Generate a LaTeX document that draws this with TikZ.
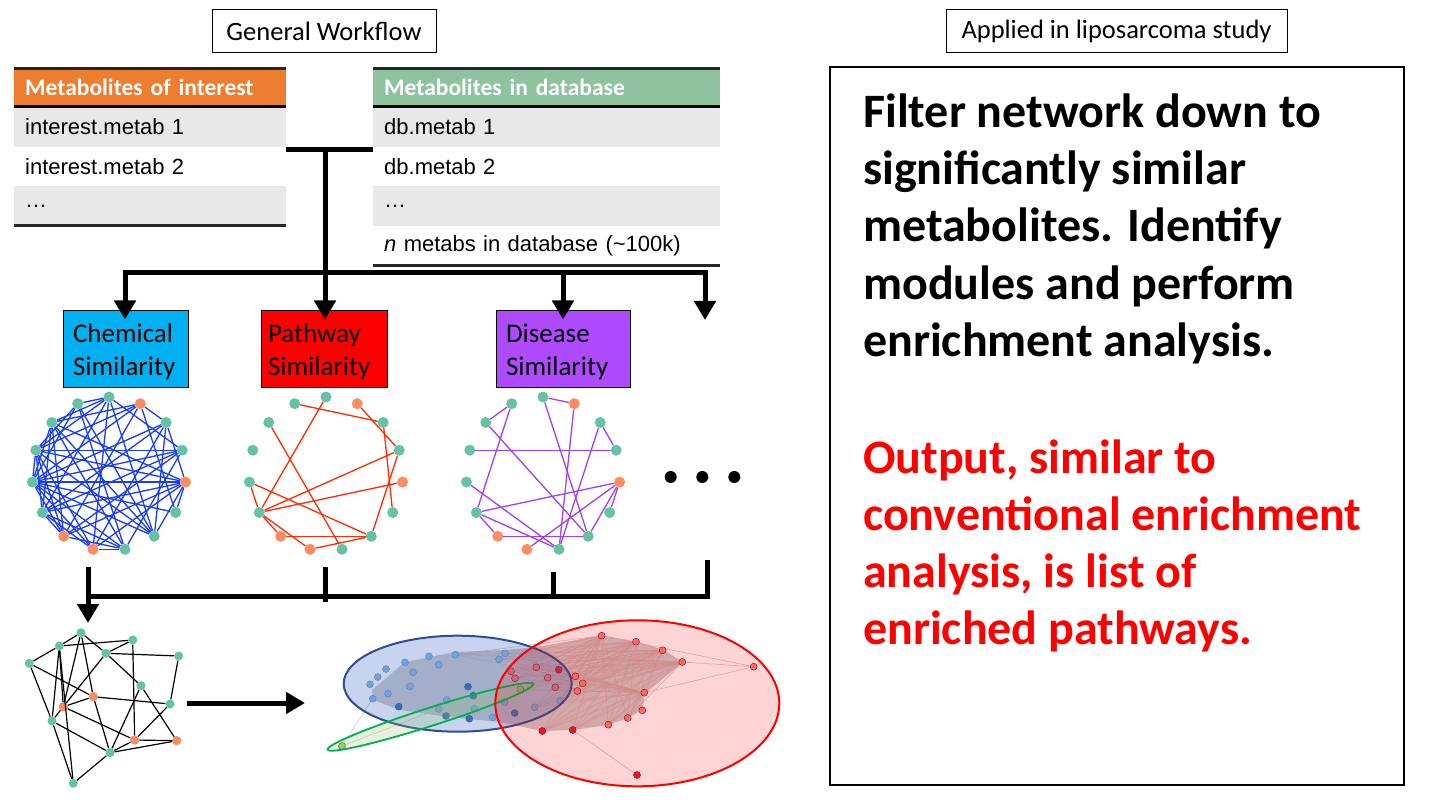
\documentclass[tikz,border=0pt]{standalone}
\usepackage{fontspec}
\setmainfont{Carlito}
\newfontfamily\arialf{Liberation Sans}
\usetikzlibrary{arrows.meta}
\definecolor{teal1}{HTML}{66C2A5}
\definecolor{orange1}{HTML}{FC8D62}
\definecolor{hdrorange}{HTML}{ED7D31}
\definecolor{hdrgreen}{HTML}{8FC3A0}
\definecolor{rowgrey}{HTML}{E8E8E8}
\definecolor{chemcyan}{HTML}{00B0F0}
\definecolor{pathred}{HTML}{FF0000}
\definecolor{dispurple}{HTML}{AE4BFF}
\definecolor{bedge}{HTML}{1A3CF5}
\definecolor{redge}{HTML}{FF2A00}
\definecolor{pedge}{HTML}{A040F0}
\definecolor{lblue}{HTML}{8AB4E0}
\definecolor{dblue}{HTML}{2E6DB4}
\definecolor{pinkn}{HTML}{F28080}
\definecolor{darkred}{HTML}{E0202A}
\definecolor{olive1}{HTML}{A8C878}
\definecolor{hair}{HTML}{C9A6A6}
\definecolor{ellblue}{HTML}{2F4E8F}
\definecolor{ellfill}{HTML}{4A72C4}
\definecolor{ellgreen}{HTML}{00B050}
\definecolor{ellgfill}{HTML}{8CC068}
\begin{document}
\begin{tikzpicture}[x=1pt,y=-1pt,
  conn/.style={line width=5pt, black},
  arr/.style={conn, -{Triangle[width=21pt,length=19pt]}},
  tnode/.style={circle, fill=teal1, draw=none, inner sep=0pt, minimum size=11pt},
  onode/.style={tnode, fill=orange1},
  stn/.style={circle, fill=teal1, draw=none, inner sep=0pt, minimum size=9pt},
  son/.style={stn, fill=orange1},
  cell/.style={anchor=north west, minimum height=39.5pt, inner xsep=11pt, inner ysep=0pt, align=left, font=\arialf\fontsize{22}{26}\selectfont},
  cellL/.style={cell, text width=250pt},
  cellR/.style={cell, text width=325pt},
  hdrL/.style={cellL, minimum height=37pt, text=white, font=\bfseries\fontsize{23.5}{28}\selectfont},
  hdrR/.style={cellR, minimum height=37pt, text=white, font=\bfseries\fontsize{23.5}{28}\selectfont},
  simbox/.style={draw=black, line width=1pt, minimum height=77pt, inner ysep=0pt, align=left, font=\fontsize{27}{33}\selectfont},
  lblbox/.style={draw=black, line width=1pt, minimum height=43pt, font=\fontsize{26.5}{30}\selectfont},
  bigtxt/.style={anchor=base west, inner sep=0pt, font=\bfseries\fontsize{48}{57}\selectfont},
  cnode/.style={circle, inner sep=0pt, minimum size=7pt, line width=0.4pt},
  lbn/.style={cnode, fill=lblue, draw=ellblue!70},
  dbn/.style={cnode, fill=dblue, draw=ellblue},
  pkn/.style={cnode, fill=pinkn, draw=red!50!black},
  drn/.style={cnode, fill=darkred, draw=red!50!black},
  gnn/.style={cnode, fill=olive1, draw=green!40!black},
  hairline/.style={hair, line width=0.7pt, opacity=0.6}
]
\useasboundingbox (0,0) rectangle (1440,810);

% ---------- header labels ----------
\node[lblbox, minimum width=224pt] (gw) at (324,31.5) {General Workflow};
\node[lblbox, minimum width=341pt] (ap) at (1116.5,31.5) {Applied in liposarcoma study};

% ---------- left table ----------
\node[hdrL, fill=hdrorange] (lh) at (14,69) {Metabolites of interest};
\node[cellL, fill=rowgrey] (l1) at (14,107) {interest.metab 1};
\node[cellL] (l2) at (14,146.5) {interest.metab 2};
\node[cellL, fill=rowgrey] (l3) at (14,186) {…};
\draw[line width=3pt, black!85] (lh.north west) -- (lh.north east);
\draw[line width=2.5pt, black] (lh.south west) -- (lh.south east);
\draw[line width=3pt, black!85] (l3.south west) -- (l3.south east);

% ---------- right table ----------
\node[hdrR, fill=hdrgreen] (rh) at (373,69) {Metabolites in database};
\node[cellR, fill=rowgrey] (r1) at (373,107) {db.metab 1};
\node[cellR] (r2) at (373,146.5) {db.metab 2};
\node[cellR, fill=rowgrey] (r3) at (373,186) {…};
\node[cellR] (r4) at (373,225.5) {\textit{n} metabs in database (\textasciitilde100k)};
\draw[line width=3pt, black!85] (rh.north west) -- (rh.north east);
\draw[line width=2.5pt, black] (rh.south west) -- (rh.south east);
\draw[line width=3pt, black!85] (r4.south west) -- (r4.south east);

% ---------- similarity boxes ----------
\node[simbox, fill=chemcyan, minimum width=125pt, text width=105pt, inner xsep=10pt] (chem) at (125.5,348.5) {\rule{0pt}{26pt}Chemical\\Similarity};
\node[simbox, fill=pathred, minimum width=126pt, text width=112pt, inner xsep=7pt] (path) at (324,348.5) {\rule{0pt}{26pt}Pathway\\Similarity};
\node[simbox, fill=dispurple, minimum width=134pt, text width=114pt, inner xsep=10pt] (dis) at (563,348.5) {\rule{0pt}{26pt}Disease\\Similarity};

% ---------- top connectors ----------
\coordinate (jl) at (286,150);
\coordinate (jr) at (373,150);
\coordinate (jm) at (325,150);
\coordinate (hb) at (325,273);
\coordinate (hl) at (125,273);
\coordinate (hr) at (705,273);
\coordinate (more) at (705,320);
\draw[conn] (jl) -- (jr);
\draw[conn] (jm) -- (hb);
\draw[conn, line cap=rect] (hl) -- (hr);
\draw[arr] (hl) -- ([yshift=-10pt]chem.north -| hl);
\draw[arr] (hb) -- ([yshift=-10pt]path.north -| hb);
\draw[arr] (dis.north |- hb) -- ([yshift=-10pt]dis.north);
\draw[arr] (hr) -- (more);

% ---------- circular graphs ----------
\foreach \gx/\gn in {109/c,326/p,543/d}{
  \foreach \i in {1,3,4,6,7,8,11,12,13,14,15}
    \node[tnode] (\gn\i) at ({\gx+77*cos(90-24*(\i-1))},{474-77*sin(90-24*(\i-1))}) {};
  \foreach \i in {2,5,9,10}
    \node[onode] (\gn\i) at ({\gx+77*cos(90-24*(\i-1))},{474-77*sin(90-24*(\i-1))}) {};
}
\foreach \a/\b in {1/14,1/15,1/13,1/9,1/7,1/11,1/4,2/14,2/12,2/13,2/6,2/10,2/3,
  3/11,3/7,3/12,4/12,4/10,4/8,4/13,5/12,5/14,5/13,5/11,5/10,5/9,5/7,5/6,5/3,
  6/12,7/15,7/14,7/13,7/12,8/15,8/14,8/12,8/11,8/9,8/10,9/12,9/11,9/13,9/3,
  10/14,10/13,10/12,10/11,11/13,11/4,11/14,12/13,12/14,12/15,13/15}
  \draw[bedge, line width=1.3pt] (c\a) -- (c\b);
\foreach \a/\b in {15/3,1/11,2/4,3/6,4/7,4/11,5/11,14/8,12/11,12/7,11/10,11/9,10/7,9/7}
  \draw[redge, line width=1.3pt] (p\a) -- (p\b);
\foreach \a/\b in {15/14,15/11,1/2,1/7,2/8,3/4,3/8,5/9,13/4,14/7,12/8,11/5,11/10,11/8,10/7,7/5,6/5}
  \draw[pedge, line width=1.3pt] (d\a) -- (d\b);

\node[circle, fill=black, inner sep=0pt, minimum size=12pt] (dot1) at (670.7,477) {};
\node[circle, fill=black, inner sep=0pt, minimum size=12pt] (dot2) at (702.3,477) {};
\node[circle, fill=black, inner sep=0pt, minimum size=12pt] (dot3) at (734.3,477) {};

% ---------- bottom connectors ----------
\coordinate (b1) at (88,567);
\coordinate (b1t) at (88,623);
\coordinate (b2) at (325,567);
\coordinate (b2b) at (325,602);
\coordinate (b3) at (553,572);
\coordinate (b4) at (707,562);
\coordinate (bl) at (88,596);
\coordinate (br) at (707,596);
\draw[conn, line cap=rect] (bl) -- (br);
\draw[conn] (b2) -- (b2b);
\draw[conn] (b3) -- (b3 |- br);
\draw[conn, line cap=rect] (b4) -- (br);
\draw[arr] (b1) -- (b1t);

% ---------- combined network ----------
\foreach \x/\y [count=\k] in {81/632.7,59.3/646,132.7/640,106/653.3,178.7/656,29.3/663.3,141/685.7,93.3/696.7,170/704,63.3/706.7,52/721,134.7/740,176.7/740.7,110/752.7,73.3/783.3}
  \node[stn] (w\k) at (\x,\y) {};
\foreach \k in {8,10,12,13} \node[son] at (w\k) {};
\foreach \a/\b in {1/2,1/4,1/10,1/8,2/3,2/6,2/10,2/11,2/15,3/4,3/12,4/5,4/7,4/10,5/9,6/8,6/11,
  7/13,7/14,8/9,8/14,8/10,10/11,10/12,11/14,11/15,15/14,12/13,12/14,13/14,9/12}
  \draw[black, line width=1.2pt] (w\a) -- (w\b);
\coordinate (mid1) at (187,703);
\coordinate (mid2) at (305,703);
\draw[arr] (mid1) -- (mid2);

% ---------- clustered network ----------
\fill[gray!75, opacity=0.55] (372,690) -- (405,662) -- (455,652) -- (505,650) -- (545,646) -- (600,636) -- (636,642) -- (663,650) -- (682,662) -- (644,693) -- (642,710) -- (628,718) -- (608,725) -- (573,730) -- (542,731) -- (500,722) -- (450,717) -- (400,710) -- (373,700) -- cycle;
\foreach \x/\y [count=\k] in {370/684.3,377.7/677,386/669,372.7/698.7,388/693.7,405/662.3,413/672.3,410/686.3,429/656.3,438.7/664.7,455.3/654.7,446.7/700,438.7/709,474.3/708.7,492.7/717.3,499/659.3,505/653.3,504.7/702.3,534.7/707.3,560/701}
  \coordinate (blc\k) at (\x,\y);
\foreach \x/\y [count=\k] in {511/671.3,515/678.3,536.3/667.3,547.7/677.7,555.3/687.3,575.3/676.3,582.7/683.3,577.3/691,601.7/635.7,636/641.7,662.7/650.3,682.3/662,753.7/666.7,644.3/692.7,642.3/710.3,627.7/718,608.3/724.7}
  \coordinate (pkc\k) at (\x,\y);
\coordinate (rdc1) at (558.7,669.7);
\coordinate (rdc2) at (542.3,731);
\coordinate (rdc3) at (572.7,730);
\coordinate (rdc4) at (637,775);
\coordinate (gnc1) at (520.3,689.3);
\coordinate (gnc2) at (342,746);
\foreach \a in {pkc9,pkc10,pkc11,pkc12,pkc14}
  \foreach \b in {pkc1,pkc2,pkc3,pkc4,pkc5,pkc6,pkc7,pkc8,rdc1,rdc2,rdc3,pkc16,pkc17,blc16,blc17,blc11,blc19,blc20,gnc1}
    \draw[hairline] (\a) -- (\b);
\foreach \a/\b in {pkc13/pkc9,pkc13/pkc12,pkc13/pkc14,pkc14/pkc10,pkc14/pkc11,pkc14/pkc12,pkc14/pkc15,pkc9/pkc10,pkc10/pkc11,pkc11/pkc12,rdc3/rdc4}
  \draw[hairline] (\a) -- (\b);
\draw[gray!40, line width=0.6pt] (gnc2) -- (blc4);
\draw[gray!40, line width=0.6pt] (gnc2) -- (blc13);
\foreach \k in {1,...,20} \node[lbn] (bl\k) at (blc\k) {};
\foreach \x/\y [count=\k] in {398.7/706.7,468/686.7,473.3/695.7,446/716,469.3/718.7,514.7/713}
  \node[dbn] (bd\k) at (\x,\y) {};
\foreach \k in {1,...,17} \node[pkn] (pk\k) at (pkc\k) {};
\foreach \k in {1,...,4} \node[drn] (rd\k) at (rdc\k) {};
\node[gnn] (gn1) at (gnc1) {};
\node[gnn] (gn2) at (gnc2) {};

\fill[ellfill, opacity=0.3] (457.7,683.7) ellipse [x radius=114pt, y radius=48pt];
\draw[ellblue, line width=2pt] (457.7,683.7) ellipse [x radius=114pt, y radius=48pt];
\fill[ellgfill, opacity=0.22, rotate around={17.7:(430.5,716.8)}] (430.5,716.8) ellipse [x radius=108pt, y radius=9pt];
\draw[ellgreen, line width=1.8pt, rotate around={17.7:(430.5,716.8)}] (430.5,716.8) ellipse [x radius=108pt, y radius=9pt];
\fill[red, opacity=0.17] (637.3,703.3) ellipse [x radius=142pt, y radius=83pt];
\draw[red, line width=2pt] (637.3,703.3) ellipse [x radius=142pt, y radius=83pt];

% ---------- right panel ----------
\draw[black, line width=1.5pt] (830,67) rectangle (1404,785);
\node[bigtxt] (t1) at (863,128) {Filter network down to};
\node[bigtxt] (t2) at (863,185) {significantly similar};
\node[bigtxt] (t3) at (863,242) {metabolites. Identify};
\node[bigtxt] (t4) at (863,299) {modules and perform};
\node[bigtxt] (t5) at (863,356) {enrichment analysis.};
\node[bigtxt, text=red] (u1) at (863,473) {Output, similar to};
\node[bigtxt, text=red] (u2) at (863,530) {conventional enrichment};
\node[bigtxt, text=red] (u3) at (863,587) {analysis, is list of};
\node[bigtxt, text=red] (u4) at (863,644) {enriched pathways.};
\end{tikzpicture}
\end{document}
